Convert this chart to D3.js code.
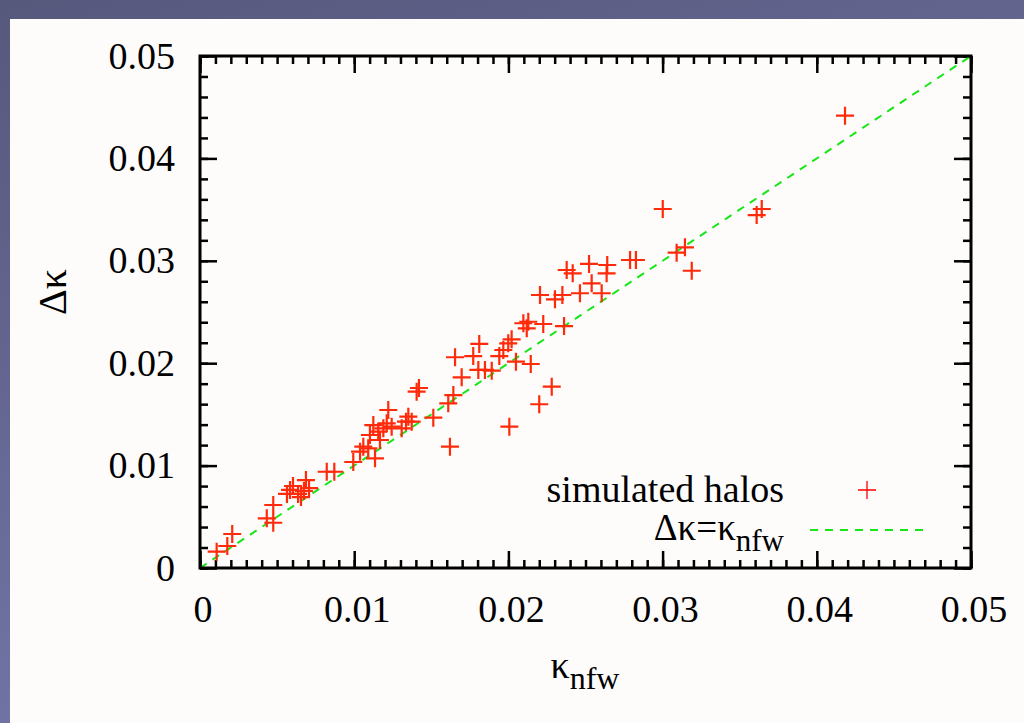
<!DOCTYPE html>
<meta charset="utf-8">
<title>Delta kappa vs kappa nfw</title>
<script src="https://d3js.org/d3.v7.min.js"></script>
<style>
  body { margin: 0; overflow: hidden; }
  text { font-family: "Liberation Serif", "Times New Roman", serif; fill: #000; }
</style>
<body>
</body>
<script>
  width = 1024;
  height = 723;

  // simulated halos
  const kappaNfw = [
    0.00108, 0.00177, 0.00209, 0.00433, 0.00475, 0.00475, 0.00564, 0.00584, 0.00603, 0.00636,
    0.00655, 0.00674, 0.00687, 0.00707, 0.00822, 0.00871, 0.00994, 0.01038, 0.01059, 0.01091,
    0.01135, 0.01102, 0.01167, 0.01124, 0.01156, 0.01189, 0.01211, 0.01243, 0.01221, 0.01308,
    0.01336, 0.01351, 0.01373, 0.01405, 0.01420, 0.01513, 0.01610, 0.01643, 0.01621, 0.01697,
    0.01654, 0.01772, 0.01811, 0.01805, 0.01848, 0.01892, 0.01941, 0.01967, 0.01999, 0.02021,
    0.02049, 0.02145, 0.02006, 0.02200, 0.02281, 0.02097, 0.02129, 0.02119, 0.02226, 0.02361,
    0.02205, 0.02302, 0.02350, 0.02464, 0.02540, 0.02605, 0.02378, 0.02417, 0.02523, 0.02641,
    0.02637, 0.02789, 0.02827, 0.03001, 0.03091, 0.03145, 0.03189, 0.03610, 0.03643, 0.04183
  ];
  const deltaKappa = [
    0.00159, 0.00215, 0.00332, 0.00485, 0.00442, 0.00615, 0.00723, 0.00762, 0.00801, 0.00723,
    0.00693, 0.00752, 0.00859, 0.00781, 0.00940, 0.00940, 0.01035, 0.01136, 0.01185, 0.01169,
    0.01071, 0.01299, 0.01250, 0.01396, 0.01331, 0.01364, 0.01413, 0.01380, 0.01543, 0.01364,
    0.01429, 0.01478, 0.01429, 0.01722, 0.01758, 0.01468, 0.01608, 0.01689, 0.01185, 0.01862,
    0.02058, 0.02070, 0.02188, 0.01934, 0.01934, 0.01927, 0.02070, 0.02129, 0.02194, 0.02233,
    0.02015, 0.01992, 0.01380, 0.01599, 0.01771, 0.02390, 0.02405, 0.02341, 0.02383, 0.02363,
    0.02666, 0.02624, 0.02666, 0.02683, 0.02780, 0.02683, 0.02910, 0.02878, 0.02969, 0.02959,
    0.02878, 0.03008, 0.03008, 0.03506, 0.03079, 0.03132, 0.02903, 0.03447, 0.03506, 0.04417
  ];
  const majorTicks = [0, 0.01, 0.02, 0.03, 0.04, 0.05];
  const tickLabels = ["0", "0.01", "0.02", "0.03", "0.04", "0.05"];
  const identityLine = [0, 0.05];

  const halos = kappaNfw.map((k, i) => ({ x: k, y: deltaKappa[i] }));

  const svg = d3.select('body').append("svg").attr("width", width).attr("height", height)
      .attr("font-family", "Liberation Serif, Times New Roman, serif");

  // background: bluish frame with an off-white sheet
  const grad = svg.append("defs").append("linearGradient")
      .attr("id", "bg").attr("x1", 0).attr("y1", 0).attr("x2", 0.45).attr("y2", 1);
  grad.append("stop").attr("offset", 0).attr("stop-color", "#56587c");
  grad.append("stop").attr("offset", 1).attr("stop-color", "#7678ac");
  svg.append("rect").attr("width", width).attr("height", height).attr("fill", "url(#bg)");
  svg.append("rect").attr("x", 10).attr("y", 19).attr("width", width - 10).attr("height", height - 19)
      .attr("fill", "#fdfcfb");

  const x = d3.scaleLinear().domain([0, 0.05]).range([200, 971]);
  const y = d3.scaleLinear().domain([0, 0.05]).range([568, 56]);

  const g = svg.append("g");

  ////////////////////////// ticks //////////////////////////
  const xMinor = d3.range(0, 51).map(d => d / 1000);
  const yMinor = d3.range(0, 26).map(d => d / 500);
  const major = 17, minor = 8;

  const axes = [
    { axis: d3.axisBottom(x), tr: `translate(0,${y(0)})`, minorVals: xMinor },
    { axis: d3.axisTop(x), tr: `translate(0,${y(0.05)})`, minorVals: xMinor },
    { axis: d3.axisLeft(y), tr: `translate(${x(0)},0)`, minorVals: yMinor },
    { axis: d3.axisRight(y), tr: `translate(${x(0.05)},0)`, minorVals: yMinor }
  ];
  axes.forEach(a => {
    g.append("g").attr("transform", a.tr)
      .call(a.axis.tickValues(a.minorVals).tickSize(-minor).tickFormat(""))
      .call(s => s.select(".domain").remove())
      .selectAll("line").attr("stroke", "#000").attr("stroke-width", 2.5);
    g.append("g").attr("transform", a.tr)
      .call(a.axis.tickValues(majorTicks).tickSize(-major).tickFormat(""))
      .call(s => s.select(".domain").remove())
      .selectAll("line").attr("stroke", "#000").attr("stroke-width", 2.5);
  });

  // tick labels
  g.append("g").selectAll("text").data(majorTicks).join("text")
      .attr("x", d => x(d) + 3).attr("y", 622)
      .attr("text-anchor", "middle").attr("font-size", 38)
      .text((d, i) => tickLabels[i]);
  g.append("g").selectAll("text").data(majorTicks).join("text")
      .attr("x", 175).attr("y", d => y(d)).attr("dy", "0.33em")
      .attr("text-anchor", "end").attr("font-size", 38)
      .text((d, i) => tickLabels[i]);

  ////////////////////////// data //////////////////////////
  const line = d3.line().x(d => x(d)).y(d => y(d));
  g.append("path").datum(identityLine)
      .attr("d", line).attr("fill", "none")
      .attr("stroke", "#16e616").attr("stroke-width", 2).attr("stroke-dasharray", "8,7");

  const arm = 9;
  g.append("g").selectAll("path").data(halos).join("path")
      .attr("d", d => `M${x(d.x) - arm},${y(d.y)}h${2 * arm}M${x(d.x)},${y(d.y) - arm}v${2 * arm}`)
      .attr("stroke", "#ff2a0a").attr("stroke-width", 2.2).attr("fill", "none");

  // frame
  g.append("rect").attr("x", x(0)).attr("y", y(0.05))
      .attr("width", x(0.05) - x(0)).attr("height", y(0) - y(0.05))
      .attr("fill", "none").attr("stroke", "#000").attr("stroke-width", 3);

  ////////////////////////// legend //////////////////////////
  g.append("text").attr("x", 784).attr("y", 502).attr("text-anchor", "end")
      .attr("font-size", 38).text("simulated halos");
  g.append("path").attr("d", `M${867 - arm},490h${2 * arm}M867,${490 - arm}v${2 * arm}`)
      .attr("stroke", "#ff0000").attr("stroke-width", 1.3);

  const lg = g.append("text").attr("x", 784).attr("y", 540).attr("text-anchor", "end").attr("font-size", 37);
  lg.append("tspan").text("Δκ=κ");
  lg.append("tspan").attr("dy", 11).attr("font-size", 31).text("nfw");
  g.append("line").attr("x1", 810).attr("x2", 923).attr("y1", 530).attr("y2", 530)
      .attr("stroke", "#16e616").attr("stroke-width", 2).attr("stroke-dasharray", "8,7");

  ////////////////////////// axis titles //////////////////////////
  const xt = g.append("text").attr("x", 585).attr("y", 678).attr("text-anchor", "middle").attr("font-size", 38);
  xt.append("tspan").text("κ");
  xt.append("tspan").attr("dy", 11).attr("font-size", 32).text("nfw");

  g.append("text").attr("transform", "translate(66,292) rotate(-90)")
      .attr("text-anchor", "middle").attr("font-size", 40).text("Δκ");
</script>
